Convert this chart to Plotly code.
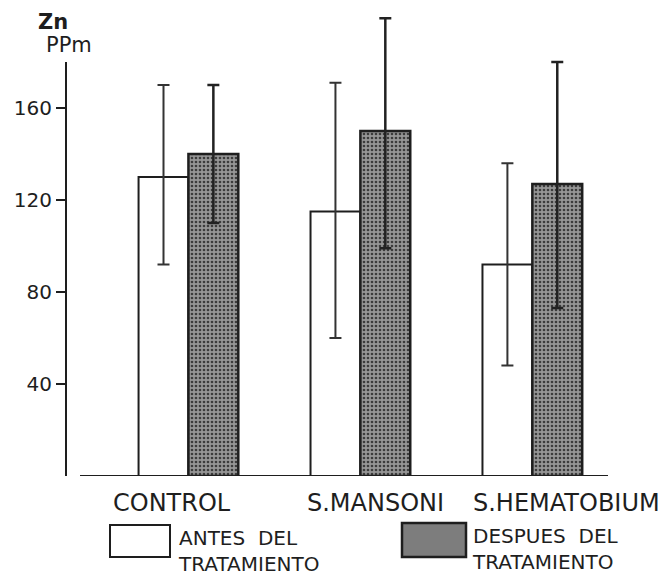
import plotly.graph_objects as go

categories = ["CONTROL", "S.MANSONI", "S.HEMATOBIUM"]
antes = [130, 115, 92]
antes_err_up = [40, 56, 44]
antes_err_down = [38, 55, 44]
despues = [140, 150, 127]
despues_err_up = [30, 49, 53]
despues_err_down = [30, 51, 54]
ytick_vals = [40, 80, 120, 160]
ytick_text = ["40", "80", "120", "160"]

OFF = 8  # page body margin
W, H = 666 - OFF, 578 - OFF
ML, MR, MT, MB = 58, 58, 4, 102
PW, PH = W - ML - MR, H - MT - MB
YTOP = PH / 2.3
INK = "#1e1e1e"
FONT = "DejaVu Sans"
LABEL_SHIFTS = [-16, 15, 34]  # hand-lettered labels sit off-centre


def px(x):
    # screen pixel -> paper
    return (x - OFF - ML) / PW


def py(y):
    return (H - MB - (y - OFF)) / PH


fig = go.Figure()
fig.add_trace(go.Bar(
    x=categories, y=antes, name="ANTES DEL TRATAMIENTO",
    marker=dict(color="white", line=dict(color=INK, width=2)),
    error_y=dict(type="data", symmetric=False, array=antes_err_up,
                 arrayminus=antes_err_down, color="#333333", thickness=2, width=6),
))
fig.add_trace(go.Bar(
    x=categories, y=despues, name="DESPUES DEL TRATAMIENTO",
    marker=dict(color="#8a8a8a", line=dict(color=INK, width=2.5),
                pattern=dict(shape=".", fgcolor="#3c3c3c", bgcolor="#969696",
                             size=4, solidity=0.35, fillmode="replace")),
    error_y=dict(type="data", symmetric=False, array=despues_err_up,
                 arrayminus=despues_err_down, color="#222222", thickness=2.5, width=6),
))

shapes = [
    dict(type="line", xref="paper", yref="y", x0=0, x1=0, y0=0, y1=180,
         line=dict(color=INK, width=2)),
    dict(type="line", xref="paper", yref="y", x0=px(80), x1=1, y0=0, y1=0,
         line=dict(color=INK, width=2)),
    dict(type="rect", xref="paper", yref="paper", x0=px(110), x1=px(170),
         y0=py(557), y1=py(525), line=dict(color=INK, width=2), fillcolor="white"),
    dict(type="rect", xref="paper", yref="paper", x0=px(402), x1=px(466),
         y0=py(557), y1=py(523), line=dict(color=INK, width=2.5), fillcolor="#7d7d7d"),
]

annotations = [
    dict(text="<b>Zn</b>", x=px(36), y=py(22), xanchor="left", yanchor="middle", size=21),
    dict(text="PPm", x=px(44), y=py(45), xanchor="left", yanchor="middle", size=21),
    dict(text="ANTES  DEL<br>TRATAMIENTO", x=px(176), y=py(578), xanchor="left",
         yanchor="bottom", size=20, align="left"),
    dict(text="DESPUES  DEL<br>TRATAMIENTO", x=px(470), y=py(576), xanchor="left",
         yanchor="bottom", size=20, align="left"),
]
for a in annotations:
    s = a.pop("size")
    a.update(xref="paper", yref="paper", showarrow=False,
             font=dict(family=FONT, size=s, color=INK))

for cat, shift in zip(categories, LABEL_SHIFTS):
    annotations.append(dict(
        text=cat, x=cat, xref="x", y=py(503), yref="paper", xshift=shift,
        xanchor="center", yanchor="middle", showarrow=False,
        font=dict(family=FONT, size=24, color=INK)))

fig.update_layout(
    width=W, height=H,
    margin=dict(l=ML, r=MR, t=MT, b=MB),
    paper_bgcolor="white", plot_bgcolor="white",
    barmode="group", bargap=0.42, bargroupgap=0,
    showlegend=False,
    shapes=shapes, annotations=annotations,
    font=dict(family=FONT, color=INK),
)
fig.update_xaxes(range=[-0.712, 2.44], showline=False, showgrid=False, zeroline=False,
                 ticks="", showticklabels=False, automargin=False)
fig.update_yaxes(range=[0, YTOP], showline=False, showgrid=False, zeroline=False,
                 tickmode="array", tickvals=ytick_vals, ticktext=ytick_text,
                 ticks="outside", ticklen=9, tickwidth=2, tickcolor=INK,
                 tickfont=dict(size=20, family=FONT, color=INK), automargin=False)

fig.write_html("out.html")
